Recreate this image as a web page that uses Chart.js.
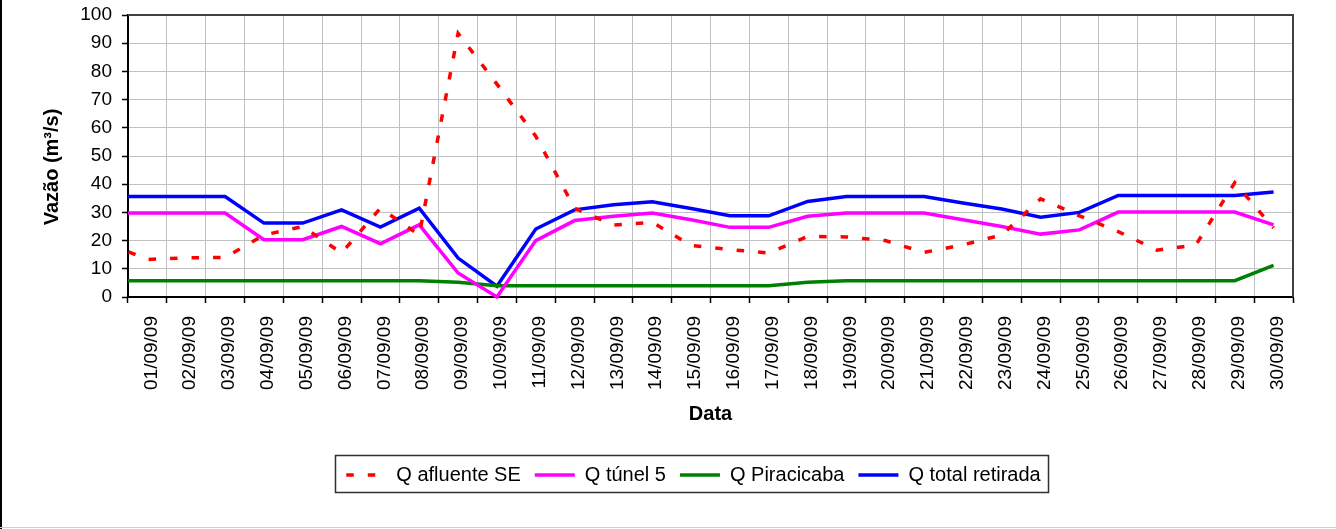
<!DOCTYPE html>
<html>
<head>
<meta charset="utf-8">
<script src="https://cdn.jsdelivr.net/npm/chart.js@4.4.0/dist/chart.umd.min.js"></script>
<style>
  html, body { margin: 0; padding: 0; background: #ffffff; }
  canvas { display: block; }
</style>
</head>
<body>
<canvas id="c" width="1336" height="529"></canvas>
<script>
// ---- data (first entry, 31/08/09, lies left of the axis and is clipped) ----
const dates = ['31/08/09',
  '01/09/09','02/09/09','03/09/09','04/09/09','05/09/09','06/09/09','07/09/09','08/09/09','09/09/09','10/09/09',
  '11/09/09','12/09/09','13/09/09','14/09/09','15/09/09','16/09/09','17/09/09','18/09/09','19/09/09','20/09/09',
  '21/09/09','22/09/09','23/09/09','24/09/09','25/09/09','26/09/09','27/09/09','28/09/09','29/09/09','30/09/09'];
const categories = dates.slice(1);

const qAfluenteSE = [18.8,
  13.3, 13.9, 14.0, 22.0, 25.0, 15.6, 31.5, 22.0, 93.5, 75.5,
  57.0, 31.5, 25.5, 26.5, 18.3, 16.8, 15.6, 21.5, 21.3, 20.0,
  15.8, 18.5, 22.0, 34.8, 28.8, 23.2, 16.6, 18.5, 40.5, 24.5];
const qTunel5 = [29.8,
  29.8, 29.8, 29.8, 20.3, 20.3, 25.0, 18.9, 25.6, 8.5, 0.0,
  20.0, 27.1, 28.6, 29.8, 27.4, 24.7, 24.7, 28.6, 29.8, 29.8,
  29.8, 27.4, 25.0, 22.3, 23.8, 30.1, 30.1, 30.1, 30.1, 25.6];
const qPiracicaba = [5.8,
  5.8, 5.8, 5.8, 5.8, 5.8, 5.8, 5.8, 5.8, 5.2, 4.0,
  4.0, 4.0, 4.0, 4.0, 4.0, 4.0, 4.0, 5.2, 5.8, 5.8,
  5.8, 5.8, 5.8, 5.8, 5.8, 5.8, 5.8, 5.8, 5.8, 11.2];
const qTotalRetirada = [35.6,
  35.6, 35.6, 35.6, 26.2, 26.2, 30.9, 24.8, 31.5, 13.8, 3.8,
  24.1, 30.9, 32.7, 33.8, 31.4, 28.8, 28.8, 33.9, 35.6, 35.6,
  35.6, 33.3, 31.2, 28.3, 30.0, 36.0, 36.0, 36.0, 36.0, 37.2];

const seriesLabels = ['Q afluente SE', 'Q túnel 5', 'Q Piracicaba', 'Q total retirada'];
const yMin = 0, yMax = 100, yStep = 10;

const FONT = "'Liberation Sans', Arial, Helvetica, sans-serif";

function pts(arr) { return arr.map((v, i) => ({ x: i, y: v })); }

const lineClip = { left: 0, right: 4, top: 4, bottom: 4 };

// nudge a scale's drawing routine by (dx, dy) pixels
function nudge(scale, method, dx, dy) {
  if (scale['_nudged_' + method]) return;
  const orig = scale[method];
  scale[method] = function () {
    const ctx = this.ctx;
    ctx.save();
    ctx.translate(dx, dy);
    const r = orig.apply(this, arguments);
    ctx.restore();
    return r;
  };
  scale['_nudged_' + method] = true;
}

const framePlugin = {
  id: 'frame',
  afterLayout(chart) {
    const lg = chart.legend;
    if (!lg) return;
    const shift = 693.5 - (lg.left + lg.right) / 2;
    lg.left += shift;
    lg.right += shift;
  },
  afterDraw(chart) {
    const ctx = chart.ctx, a = chart.chartArea, lg = chart.legend;
    ctx.save();
    // plot area top/right border
    ctx.strokeStyle = '#404040';
    ctx.lineWidth = 2;
    ctx.beginPath();
    ctx.moveTo(a.left, a.top);
    ctx.lineTo(a.right, a.top);
    ctx.lineTo(a.right, a.bottom);
    ctx.stroke();
    // legend border
    if (lg && lg.lineWidths) {
      const p = lg.options.labels.padding;
      const cx = (lg.left + lg.right) / 2;
      const half = (lg.lineWidths[0] - p) / 2;
      const cy = lg.top + p + lg.options.labels.font.size / 2;
      ctx.strokeStyle = '#303030';
      ctx.lineWidth = 1.5;
      ctx.strokeRect(Math.round(cx - half - 11) + 0.5, Math.round(cy - 20) + 0.5,
                     Math.round(2 * half + 19), 37);
    }
    // outer chart frame
    ctx.fillStyle = '#000';
    ctx.fillRect(0, 0, 2, chart.height);
    ctx.fillStyle = '#d0d0d0';
    ctx.fillRect(0, chart.height - 2, chart.width, 1);
    ctx.restore();
  }
};

new Chart(document.getElementById('c'), {
  type: 'line',
  data: {
    labels: categories,
    datasets: [
      { label: seriesLabels[0], data: pts(qAfluenteSE), xAxisID: 'xl', yAxisID: 'y',
        borderColor: '#ff0000', backgroundColor: '#ff0000', borderWidth: 3.5,
        borderDash: [7.5, 14], borderCapStyle: 'butt', pointRadius: 0, tension: 0, clip: lineClip },
      { label: seriesLabels[1], data: pts(qTunel5), xAxisID: 'xl', yAxisID: 'y',
        borderColor: '#ff00ff', backgroundColor: '#ff00ff', borderWidth: 3.5,
        pointRadius: 0, tension: 0, clip: lineClip },
      { label: seriesLabels[2], data: pts(qPiracicaba), xAxisID: 'xl', yAxisID: 'y',
        borderColor: '#008000', backgroundColor: '#008000', borderWidth: 3.5,
        pointRadius: 0, tension: 0, clip: lineClip },
      { label: seriesLabels[3], data: pts(qTotalRetirada), xAxisID: 'xl', yAxisID: 'y',
        borderColor: '#0000ff', backgroundColor: '#0000ff', borderWidth: 3.5,
        pointRadius: 0, tension: 0, clip: lineClip }
    ]
  },
  options: {
    responsive: false,
    animation: false,
    devicePixelRatio: 1,
    layout: { padding: { left: 0, right: 43, top: 15, bottom: 34 } },
    plugins: {
      tooltip: { enabled: false },
      legend: {
        position: 'bottom',
        labels: {
          usePointStyle: true,
          pointStyle: 'line',
          pointStyleWidth: 40,
          boxHeight: 20,
          padding: 14,
          color: '#000',
          font: { family: FONT, size: 20 },
          generateLabels(chart) {
            const items = Chart.defaults.plugins.legend.labels.generateLabels(chart);
            items.forEach(it => {
              const ds = chart.data.datasets[it.datasetIndex];
              it.lineWidth = ds.borderWidth;
              it.lineDash = ds.borderDash || [];
              it.strokeStyle = ds.borderColor;
              it.fillStyle = ds.borderColor;
              it.lineCap = 'butt';
            });
            return items;
          }
        }
      }
    },
    scales: {
      xl: {
        type: 'linear', display: false, min: 0.5, max: 30.5
      },
      x: {
        type: 'category',
        position: 'bottom',
        offset: true,
        afterFit(s) { s.height = 154; s.paddingLeft = 0; s.paddingRight = 0; nudge(s, 'drawLabels', 4, 0); },
        grid: { offset: true, color: '#c0c0c0', lineWidth: 1, drawTicks: true, tickLength: 6, tickColor: '#000', tickWidth: 1.5 },
        border: { color: '#000', width: 2 },
        ticks: { font: { family: FONT, size: 19 }, color: '#000', maxRotation: 90, minRotation: 90, autoSkip: false, padding: 13 },
        title: { display: true, text: 'Data', color: '#000', font: { family: FONT, size: 20, weight: 'bold' }, padding: { top: 0, bottom: 25 } }
      },
      y: {
        min: yMin, max: yMax,
        afterFit(s) { s.width = 128; s.paddingTop = 0; s.paddingBottom = 0; nudge(s, 'drawTitle', 0, 11); },
        ticks: { stepSize: yStep, font: { family: FONT, size: 19 }, color: '#000', padding: 10 },
        grid: { color: '#c0c0c0', lineWidth: 1, tickLength: 6, tickColor: '#000', tickWidth: 1.5 },
        border: { color: '#000', width: 2 },
        title: { display: true, text: 'Vazão (m³/s)', color: '#000', font: { family: FONT, size: 20, weight: 'bold' }, padding: { top: 40, bottom: 0 } }
      }
    }
  },
  plugins: [framePlugin]
});
</script>
</body>
</html>
